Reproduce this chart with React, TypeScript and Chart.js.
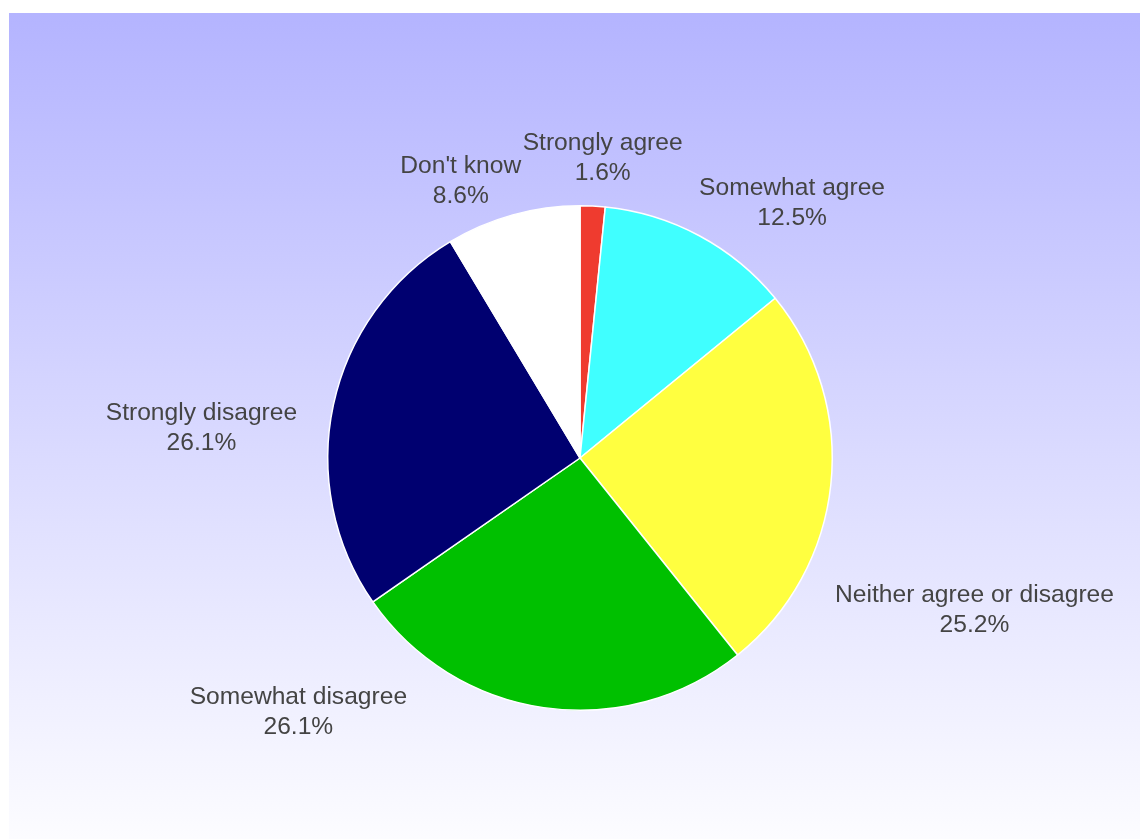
import React, { useEffect, useRef } from "react";
import { Chart, registerables } from "chart.js";

Chart.register(...registerables);

const categories = [
  "Strongly agree",
  "Somewhat agree",
  "Neither agree or disagree",
  "Somewhat disagree",
  "Strongly disagree",
  "Don't know",
];
const values = [1.6, 12.5, 25.2, 26.1, 26.1, 8.6];
const sliceColors = ["#ef3b2f", "#40ffff", "#ffff40", "#00c000", "#000070", "#ffffff"];

// Label layout: angle (degrees clockwise from top) and distance as a multiple of the pie radius
const labelAngles = [4.3, 39.6, 110.9, 228.1, 274.8, 336.8];
const labelDistances = [1.198, 1.319, 1.674, 1.5, 1.506, 1.2];

const CANVAS_W = 1131;
const CANVAS_H = 826;

const backgroundPlugin = {
  id: "gradientBackground",
  beforeDraw(chart: any) {
    const { ctx, width, height } = chart;
    const g = ctx.createLinearGradient(0, 0, 0, height);
    g.addColorStop(0, "#b4b4ff");
    g.addColorStop(1, "#fcfcff");
    ctx.save();
    ctx.fillStyle = g;
    ctx.fillRect(0, 0, width, height);
    ctx.restore();
  },
};

const labelPlugin = {
  id: "outsideLabels",
  afterDatasetsDraw(chart: any) {
    const meta = chart.getDatasetMeta(0);
    const ctx = chart.ctx;
    ctx.save();
    ctx.font = '24.6px "Liberation Sans", Arial, sans-serif';
    ctx.fillStyle = "#444444";
    ctx.textAlign = "center";
    ctx.textBaseline = "alphabetic";
    meta.data.forEach((arc: any, i: number) => {
      const { x, y, outerRadius } = arc.getProps(["x", "y", "outerRadius"], true);
      const a = ((labelAngles[i] - 90) * Math.PI) / 180;
      const d = labelDistances[i] * outerRadius;
      const lx = x + d * Math.cos(a);
      const ly = y + d * Math.sin(a);
      const label = chart.data.labels[i];
      const pct = chart.data.datasets[0].data[i].toFixed(1) + "%";
      ctx.fillText(label, lx, ly - 15 + 8.7);
      ctx.fillText(pct, lx, ly + 15 + 8.7);
    });
    ctx.restore();
  },
};

export default function App() {
  const canvasRef = useRef<HTMLCanvasElement | null>(null);

  useEffect(() => {
    if (!canvasRef.current) return;
    const chart = new Chart(canvasRef.current, {
      type: "pie",
      data: {
        labels: categories,
        datasets: [
          {
            data: values,
            backgroundColor: sliceColors,
            borderColor: "#ffffff",
            borderWidth: 1.5,
            hoverOffset: 0,
            offset: 0,
          },
        ],
      },
      options: {
        responsive: false,
        animation: false,
        devicePixelRatio: 1,
        layout: { padding: { left: 318, top: 192, right: 307, bottom: 128 } },
        plugins: {
          legend: { display: false },
          tooltip: { enabled: false },
        },
      },
      plugins: [backgroundPlugin, labelPlugin],
    } as any);
    return () => chart.destroy();
  }, []);

  return (
    <div style={{ position: "fixed", left: 9, top: 13, width: CANVAS_W, height: CANVAS_H }}>
      <canvas
        ref={canvasRef}
        width={CANVAS_W}
        height={CANVAS_H}
        style={{ width: CANVAS_W, height: CANVAS_H, display: "block" }}
      />
    </div>
  );
}
